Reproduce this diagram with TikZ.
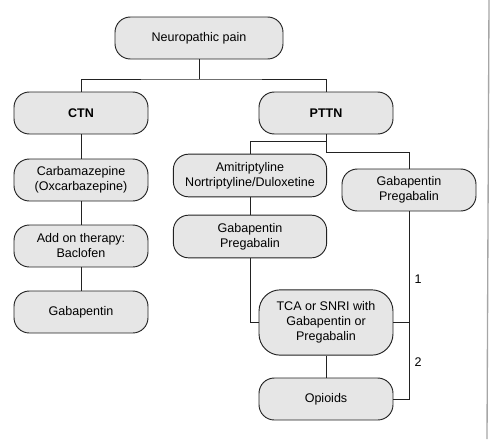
\documentclass[tikz,border=0pt]{standalone}
\usepackage{fontspec}
\setmainfont{Liberation Sans}
\usepackage{tikz}
\usepackage{xcolor}
\usetikzlibrary{calc}
\definecolor{boxfill}{HTML}{E6E6E6}
\definecolor{edge}{HTML}{222222}

\tikzset{
  box/.style={draw=edge, fill=boxfill, line width=0.7pt, rounded corners=11.5pt,
    minimum width=100.5pt, minimum height=31.5pt, align=center, inner sep=1pt,
    font=\fontsize{9.4}{11.25}\selectfont},
  wide/.style={minimum width=115pt, minimum height=32pt},
  link/.style={draw=edge, line width=0.65pt}
}

\begin{document}
\begin{tikzpicture}[x=0.75pt, y=-0.75pt]

  \useasboundingbox (0,0) rectangle (492,439);

  % Boxes
  \node[box, minimum width=126pt] (pain) at (199,38) {Neuropathic pain};
  \node[box, font=\fontsize{9.4}{11.25}\selectfont\bfseries] (ctn) at (81,113) {CTN};
  \node[box, font=\fontsize{9.4}{11.25}\selectfont\bfseries] (pttn) at (326,113) {PTTN};

  \node[box] (carba) at (81,180) {Carbamazepine\\(Oxcarbazepine)};
  \node[box] (addon) at (81,246) {Add on therapy:\\Baclofen};
  \node[box] (gaba) at (81,312) {Gabapentin};

  \node[box, wide] (ami) at (250,175.5) {Amitriptyline\\Nortriptyline/Duloxetine};
  \node[box, wide] (gapre) at (250,236.5) {Gabapentin\\Pregabalin};
  \node[box] (gapreR) at (409,190) {Gabapentin\\Pregabalin};
  \node[box, minimum height=49pt, rounded corners=16pt] (tca) at (326,322.5)
    {TCA or SNRI with\\Gabapentin or\\Pregabalin};
  \node[box] (opi) at (326,399) {Opioids};

  % Junctions
  \coordinate (top) at (199,79);
  \coordinate (left) at (326,141);
  \coordinate (right) at (326,152);

  % Connectors
  \draw[link] (pain.south) -- (top);
  \draw[link] (ctn.north) |- (top) -| (pttn.north);
  \draw[link] (ctn) -- (carba);
  \draw[link] (carba) -- (addon);
  \draw[link] (addon) -- (gaba);

  \draw[link] (pttn.south) -- (right) -| (gapreR.north);
  \draw[link] (ami.north) |- (left);
  \draw[link] (ami) -- (gapre);
  \draw[link] (gapre.south) |- (tca.west);
  \draw[link] (tca) -- (opi);
  \draw[link] (gapreR.south) |- (opi.east);
  \draw[link] (tca.east) -- (tca.east -| gapreR.south);

  % Step labels
  \node[font=\fontsize{9.4}{11.25}\selectfont] (one) at (418,279) {1};
  \node[font=\fontsize{9.4}{11.25}\selectfont] (two) at (418,362) {2};

  % Scan edge
  \draw[gray!70, line width=1pt] (489,0) -- (487,439);

\end{tikzpicture}
\end{document}
